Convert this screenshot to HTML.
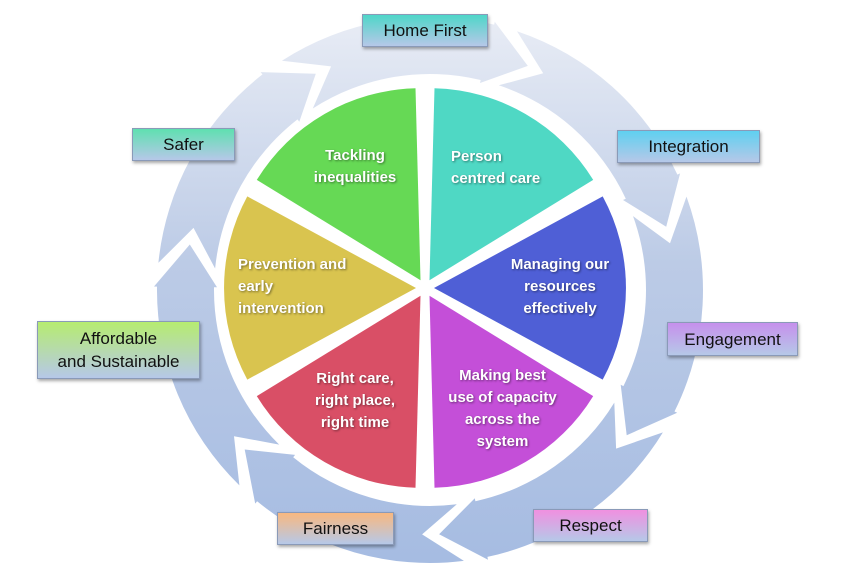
<!DOCTYPE html>
<html><head><meta charset="utf-8"><style>
html,body{margin:0;padding:0;background:#fff;}
body{width:850px;height:584px;position:relative;overflow:hidden;font-family:"Liberation Sans",sans-serif;}
svg{position:absolute;left:0;top:0;}
.lb{position:absolute;box-sizing:border-box;border:1px solid #8a9ab8;box-shadow:1px 2px 3px rgba(0,0,0,.35);display:flex;align-items:center;justify-content:center;text-align:center;font-size:17px;color:#111;line-height:23px;}
.pt{position:absolute;color:#fff;font-weight:bold;font-size:15px;line-height:22px;text-shadow:1px 1px 2px rgba(0,0,0,.45);}
</style></head><body>
<svg id="s" width="850" height="584" viewBox="0 0 850 584">
<defs>
<linearGradient id="rg" gradientUnits="userSpaceOnUse" x1="0" y1="20" x2="0" y2="560"><stop offset="0" stop-color="#e8ecf5"/><stop offset="0.45" stop-color="#bccbe6"/><stop offset="1" stop-color="#a6bce2"/></linearGradient>
</defs>
<g id="ring"></g><g id="pie"></g>
</svg>
<div class="lb" style="left:362px;top:14px;width:126px;height:33px;background:linear-gradient(#4fd6c8,#b6c8e8);">Home First</div>
<div class="lb" style="left:617px;top:130px;width:143px;height:33px;background:linear-gradient(#5fd0f0,#b6c8e8);">Integration</div>
<div class="lb" style="left:132px;top:128px;width:103px;height:33px;background:linear-gradient(#5fe0b0,#b6c8e8);">Safer</div>
<div class="lb" style="left:667px;top:322px;width:131px;height:34px;background:linear-gradient(#c690ec,#b6c8e8);">Engagement</div>
<div class="lb" style="left:37px;top:321px;width:163px;height:58px;background:linear-gradient(#b6ec70,#b6c8e8);">Affordable<br>and Sustainable</div>
<div class="lb" style="left:277px;top:512px;width:117px;height:33px;background:linear-gradient(#f8b880,#b6c8e8);">Fairness</div>
<div class="lb" style="left:533px;top:509px;width:115px;height:33px;background:linear-gradient(#f090e0,#b6c8e8);">Respect</div>

<div class="pt" style="left:300px;top:145px;width:110px;text-align:center;">Tackling<br>inequalities</div>
<div class="pt" style="left:451px;top:146px;">Person<br>centred care</div>
<div class="pt" style="left:505px;top:254px;width:110px;text-align:center;">Managing our<br>resources<br>effectively</div>
<div class="pt" style="left:238px;top:254px;">Prevention and<br>early<br>intervention</div>
<div class="pt" style="left:300px;top:368px;width:110px;text-align:center;">Right care,<br>right place,<br>right time</div>
<div class="pt" style="left:440px;top:365px;width:125px;text-align:center;">Making best<br>use of capacity<br>across the<br>system</div>

<script>
var NS="http://www.w3.org/2000/svg";
function P(cx,cy,r,a){a=a*Math.PI/180;return [cx+r*Math.cos(a),cy+r*Math.sin(a)];}
function f(p){return p[0].toFixed(1)+","+p[1].toFixed(1);}
var cx=430,cy=290,Ro=273,Ri=216,Rm=(Ro+Ri)/2;
var heads=[];for(var k=0;k<7;k++)heads.push(-15+k*51.43);
var ring=document.getElementById("ring");
for(var k=0;k<7;k++){
 var h=heads[k],hp=heads[(k+6)%7];if(hp>h)hp-=360;
 var t=hp-5,n=hp+4,hb=h-10;
 var d="M"+f(P(cx,cy,Ro,t))+" A"+Ro+","+Ro+" 0 0 1 "+f(P(cx,cy,Ro,hb))+" L"+f(P(cx,cy,Ro+3,hb))+" L"+f(P(cx,cy,Rm,h))+" L"+f(P(cx,cy,Ri-3,hb))+" L"+f(P(cx,cy,Ri,hb))+" A"+Ri+","+Ri+" 0 0 0 "+f(P(cx,cy,Ri,t))+" L"+f(P(cx,cy,Rm,n))+"Z";
 var e=document.createElementNS(NS,"path");e.setAttribute("d",d);e.setAttribute("fill","url(#rg)");ring.appendChild(e);
}
var pcx=425,pcy=288,R=192,off=9;
var cols=[["#66d955",-150,-90],["#4fd8c4",-90,-30],["#4f5fd6",-30,30],["#c44fd8",30,90],["#d94f66",90,150],["#d9c44f",150,210]];
var pie=document.getElementById("pie");
cols.forEach(function(c){
 var m=(c[1]+c[2])/2,o=P(0,0,off,m),x=pcx+o[0],y=pcy+o[1];
 var a=P(x,y,R,c[1]+1.5),b=P(x,y,R,c[2]-1.5);
 var d="M"+x.toFixed(1)+","+y.toFixed(1)+" L"+f(a)+" A"+R+","+R+" 0 0 1 "+f(b)+"Z";
 var e=document.createElementNS(NS,"path");e.setAttribute("d",d);e.setAttribute("fill",c[0]);pie.appendChild(e);
});
</script>
</body></html>
